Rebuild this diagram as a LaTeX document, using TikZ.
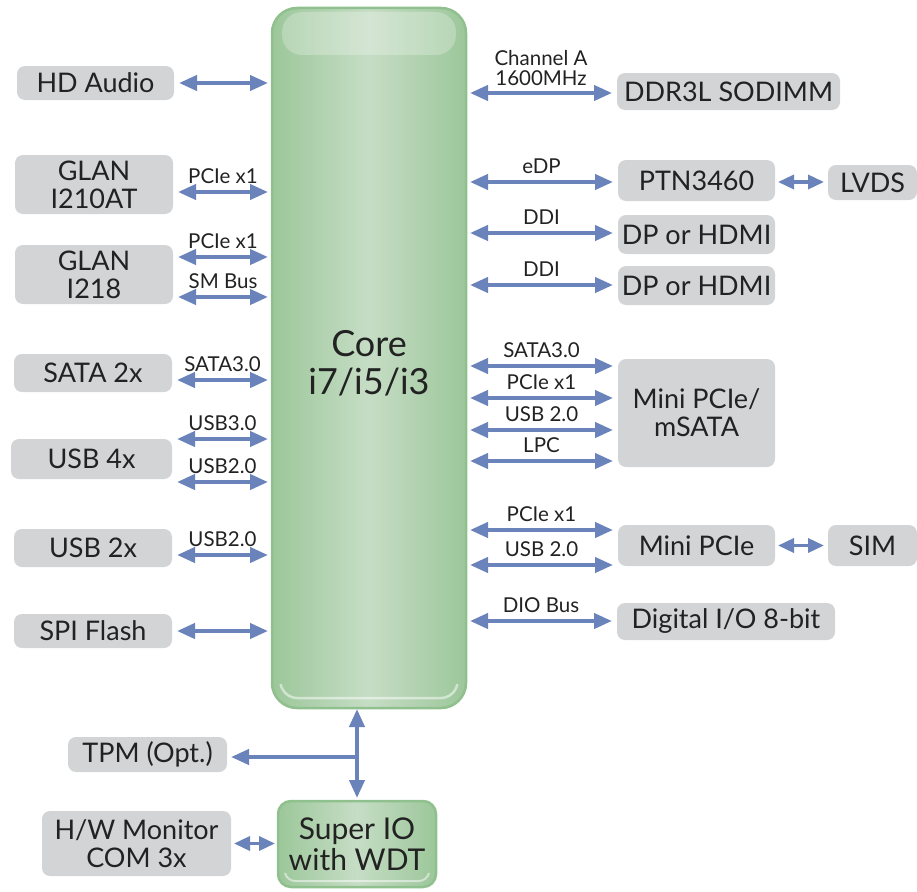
\documentclass[tikz,border=0pt]{standalone}
\usepackage{fontspec}
\setmainfont{Lato}
\usetikzlibrary{arrows.meta,calc}
\definecolor{boxgray}{HTML}{D3D4D6}
\definecolor{buscol}{HTML}{6A83BA}
\definecolor{gdark}{HTML}{9CC79A}
\definecolor{glight}{HTML}{C6DDC5}
\definecolor{gline}{HTML}{8FC08D}
\definecolor{txt}{HTML}{222222}
\tikzset{
  gbox/.style={fill=boxgray, rounded corners=8pt, inner sep=0pt, outer sep=0pt, align=center, text=txt, font=\fontsize{27}{28}\selectfont},
  gnode/.style={draw=gline, line width=2.5pt, left color=gdark, right color=gdark, middle color=glight, inner sep=0pt, outer sep=0pt, align=center, text=txt},
  bus/.style={line width=4pt, draw=buscol, {Triangle[length=18pt,width=15pt]}-{Triangle[length=18pt,width=15pt]}},
  sbus/.style={line width=3.5pt, draw=buscol, {Triangle[length=16pt,width=14pt]}-{Triangle[length=16pt,width=14pt]}},
  lbl/.style={midway, anchor=base, yshift=9pt, inner sep=0pt, text=txt, font=\fontsize{20.5}{21}\selectfont}
}
\newcommand\lbus[3]{\coordinate (t) at ([xshift=5pt,yshift=#2]#1.east);
  \draw[bus] (t) -- ([xshift=-4pt]core.west |- t) node[lbl]{#3};}
\newcommand\rbus[3]{\coordinate (t) at ([xshift=-5pt,yshift=#2]#1.west);
  \draw[bus] ([xshift=4pt]core.east |- t) -- (t) node[lbl]{#3};}
\begin{document}
\begin{tikzpicture}[x=1pt,y=-1pt]
\useasboundingbox (0,0) rectangle (917,891);
% core
\node[gnode, rounded corners=25pt, minimum width=194pt, minimum height=700pt] (core) at (369,358) {};
\node[text=txt, align=center, font=\fontsize{36}{38}\selectfont, inner sep=0pt] (coretxt) at ([yshift=-5pt]core.center) {Core\\i7/i5/i3};
\fill[white, opacity=.25, rounded corners=20pt] ([xshift=10pt,yshift=-4pt]core.north west) -- ([xshift=10pt,yshift=-47pt]core.north west) -- ([xshift=-10pt,yshift=-47pt]core.north east) -- ([xshift=-10pt,yshift=-4pt]core.north east) -- cycle;
\draw[white, opacity=.5, line width=2.5pt, rounded corners=14pt] ([xshift=9pt,yshift=22pt]core.south west) -- ([xshift=11pt,yshift=10pt]core.south west) -- ([xshift=-11pt,yshift=10pt]core.south east) -- ([xshift=-9pt,yshift=22pt]core.south east);
% super IO
\node[gnode, rounded corners=13pt, minimum width=158pt, minimum height=86pt, font=\fontsize{30}{31}\selectfont] (sio) at (357,844) {Super IO\\with WDT};
\draw[white, opacity=.5, line width=2pt, rounded corners=8pt] ([xshift=7pt,yshift=14pt]sio.south west) -- ([xshift=9pt,yshift=6pt]sio.south west) -- ([xshift=-9pt,yshift=6pt]sio.south east) -- ([xshift=-7pt,yshift=14pt]sio.south east);
% left boxes
\node[gbox, minimum width=157pt, minimum height=34pt] (hda) at (95.5,83) {HD Audio};
\node[gbox, minimum width=158pt, minimum height=59pt] (glanA) at (94,184.5) {GLAN\\I210AT};
\node[gbox, minimum width=158pt, minimum height=59pt] (glanB) at (94,274.5) {GLAN\\I218};
\node[gbox, minimum width=158pt, minimum height=38pt] (sata) at (93,373) {SATA 2x};
\node[gbox, minimum width=161pt, minimum height=40pt] (usbf) at (91.5,459) {USB 4x};
\node[gbox, minimum width=158pt, minimum height=38pt] (usbt) at (93,548) {USB 2x};
\node[gbox, minimum width=158pt, minimum height=34pt] (spi) at (93,631) {SPI Flash};
\node[gbox, minimum width=159pt, minimum height=35pt] (tpm) at (147.5,754.5) {TPM (Opt.)};
\node[gbox, minimum width=189pt, minimum height=65pt] (hwm) at (136.5,843.5) {H/W Monitor\\COM 3x};
% right boxes
\node[gbox, minimum width=223pt, minimum height=37pt] (ddr) at (728.5,91.5) {DDR3L SODIMM};
\node[gbox, minimum width=157pt, minimum height=41pt] (ptn) at (696.5,180.5) {PTN3460};
\node[gbox, minimum width=89pt, minimum height=35pt] (lvds) at (872.5,182.5) {LVDS};
\node[gbox, minimum width=157pt, minimum height=39pt] (dpa) at (696.5,234.5) {DP or HDMI};
\node[gbox, minimum width=157pt, minimum height=39pt] (dpb) at (696.5,285.5) {DP or HDMI};
\node[gbox, minimum width=157pt, minimum height=108pt] (mpc) at (696.5,413) {Mini PCIe/\\mSATA};
\node[gbox, minimum width=157pt, minimum height=41pt] (mini) at (696.5,545.5) {Mini PCIe};
\node[gbox, minimum width=89pt, minimum height=41pt] (sim) at (872.5,545.5) {SIM};
\node[gbox, minimum width=218pt, minimum height=37pt] (dio) at (726,621.5) {Digital I/O 8-bit};
% left buses
\lbus{hda}{0pt}{}
\lbus{glanA}{-7.5pt}{PCIe x1}
\lbus{glanB}{17.5pt}{PCIe x1}
\lbus{glanB}{-22.5pt}{SM Bus}
\lbus{sata}{-7pt}{SATA3.0}
\lbus{usbf}{20pt}{USB3.0}
\lbus{usbf}{-23pt}{USB2.0}
\lbus{usbt}{-7pt}{USB2.0}
\lbus{spi}{0pt}{}
% right buses
\coordinate (t) at ([xshift=-5pt,yshift=-1.5pt]ddr.west);
\draw[bus] ([xshift=4pt]core.east |- t) -- (t) node[midway, anchor=south, yshift=5pt, inner sep=0pt, text=txt, align=center, font=\fontsize{20.5}{20}\selectfont]{Channel A\\1600MHz};
\rbus{ptn}{-1.5pt}{eDP}
\rbus{dpa}{1.5pt}{DDI}
\rbus{dpb}{0.5pt}{DDI}
\rbus{mpc}{47pt}{SATA3.0}
\rbus{mpc}{15pt}{PCIe x1}
\rbus{mpc}{-17pt}{USB 2.0}
\rbus{mpc}{-48pt}{LPC}
\rbus{mini}{15.5pt}{PCIe x1}
\rbus{mini}{-19.5pt}{USB 2.0}
\rbus{dio}{0.5pt}{DIO Bus}
% side links
\draw[sbus] ([xshift=3pt,yshift=-1.5pt]ptn.east) -- ([xshift=-4pt,yshift=-1.5pt]ptn.east -| lvds.west);
\draw[sbus] ([xshift=3pt]mini.east) -- ([xshift=-4pt]sim.west);
% bottom
\draw[bus] ([yshift=3pt]sio.north) -- ([yshift=-1pt]sio.north |- core.south);
\coordinate (j) at ([yshift=-2.5pt]sio.north |- tpm.east);
\draw[line width=4pt, draw=buscol, -{Triangle[length=18pt,width=15pt]}] (j) -- ([xshift=4pt,yshift=-2.5pt]tpm.east);
\draw[sbus] ([xshift=3pt]hwm.east) -- ([xshift=-3pt]sio.west |- hwm.east);
\end{tikzpicture}
\end{document}
